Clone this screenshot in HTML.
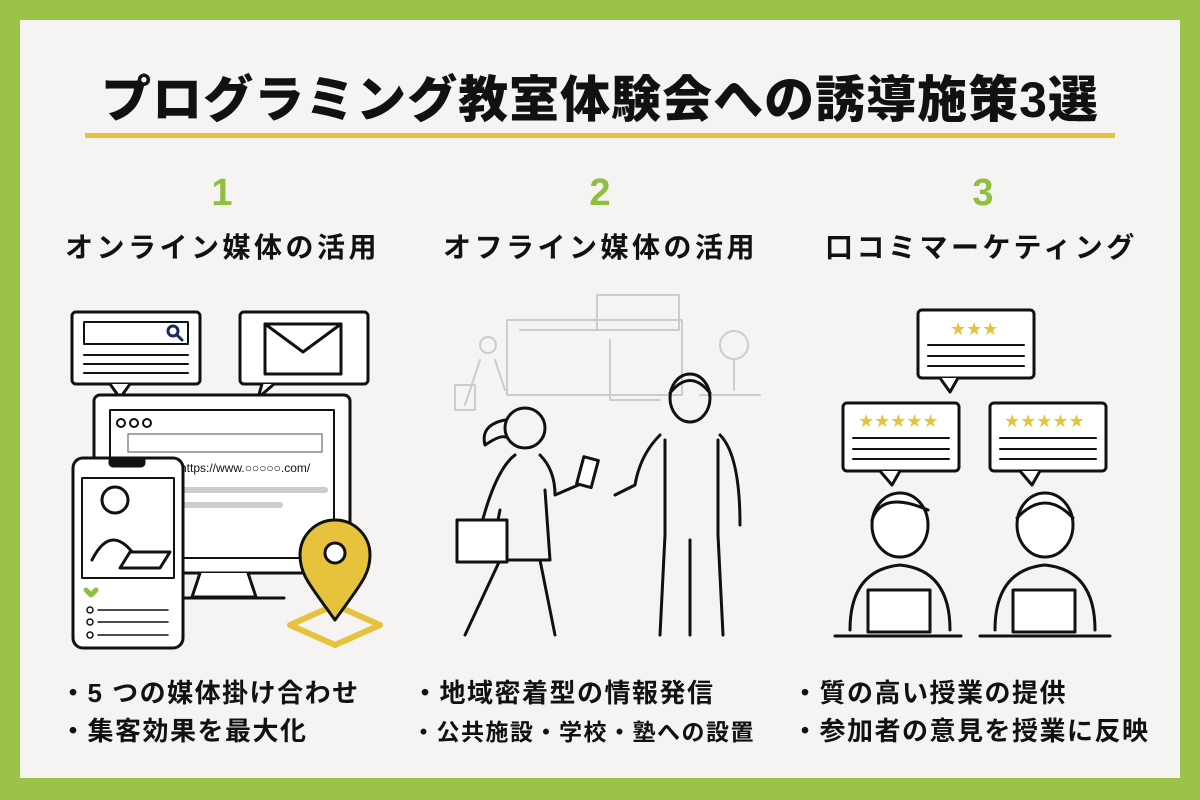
<!DOCTYPE html>
<html><head><meta charset="utf-8">
<style>
*{margin:0;padding:0;box-sizing:border-box}
body{width:1200px;height:800px;background:#9cc349;position:relative;overflow:hidden;font-family:"Liberation Sans","Noto Sans CJK JP",sans-serif;color:#111}
.inner{position:absolute;left:20px;top:20px;width:1160px;height:758px;background:#f5f4f2}
.t{position:absolute;white-space:nowrap;font-weight:bold}
.title{left:0;width:1200px;text-align:center;top:60px;font-size:50px;font-weight:900;letter-spacing:1px}
.bar{position:absolute;left:85px;top:133px;width:1030px;height:5px;background:#e6c23d}
.num{font-size:38px;color:#8fbf3f;top:172px;width:60px;text-align:center}
.h{font-size:28px;top:226px;letter-spacing:3.5px}
.b{font-size:26px;letter-spacing:1.5px}
</style></head><body>
<div class="inner"></div>
<div class="t title">プログラミング教室体験会への誘導施策3選</div>
<div class="bar"></div>
<div class="t num" style="left:192px">1</div>
<div class="t num" style="left:570px">2</div>
<div class="t num" style="left:953px">3</div>
<div class="t h" style="left:65px">オンライン媒体の活用</div>
<div class="t h" style="left:443px">オフライン媒体の活用</div>
<div class="t h" style="left:825px">口コミマーケティング</div>
<div class="t b" style="left:60px;top:673px">・5 つの媒体掛け合わせ</div>
<div class="t b" style="left:60px;top:711px">・集客効果を最大化</div>
<div class="t b" style="left:412px;top:673px">・地域密着型の情報発信</div>
<div class="t b" style="left:412px;top:713px;font-size:23px">・公共施設・学校・塾への設置</div>
<div class="t b" style="left:792px;top:673px">・質の高い授業の提供</div>
<div class="t b" style="left:792px;top:711px">・参加者の意見を授業に反映</div>

<svg style="position:absolute;left:0;top:0" width="1200" height="800" fill="none" stroke="#111" stroke-width="3" stroke-linejoin="round" stroke-linecap="round">
<rect x="72" y="312" width="128" height="72" rx="4" fill="#fff"/>
<path d="M110 384 l10 14 l10 -14" fill="#fff"/>
<rect x="84" y="322" width="104" height="22" fill="#fff" stroke-width="2"/>
<circle cx="173" cy="331" r="5" stroke="#1a2a5a"/><path d="M177 335 l5 5" stroke="#1a2a5a"/>
<path d="M84 355h104M84 364h104M84 373h104" stroke-width="2"/>
<rect x="240" y="312" width="128" height="72" rx="4" fill="#fff"/>
<path d="M262 384 l-4 14 l16 -14" fill="#fff"/>
<rect x="265" y="324" width="76" height="50" fill="#fff"/>
<path d="M265 324 l38 28 l38 -28"/>
<rect x="94" y="395" width="256" height="178" rx="6" fill="#fff"/>
<rect x="110" y="410" width="224" height="148" fill="#fff" stroke-width="2"/>
<circle cx="121" cy="423" r="4" stroke-width="2"/><circle cx="134" cy="423" r="4" stroke-width="2"/><circle cx="147" cy="423" r="4" stroke-width="2"/>
<rect x="128" y="434" width="194" height="18" stroke-width="1.5" stroke="#888"/>
<path d="M180 490h145M180 505h100" stroke="#ccc" stroke-width="6"/>
<text x="180" y="472" font-size="12" fill="#111" stroke="none" font-family="Liberation Sans">https://www.○○○○○.com/</text>
<path d="M200 573 l-8 24 h64 l-8 -24" fill="#fff"/>
<path d="M180 598h104"/>
<rect x="73" y="458" width="110" height="190" rx="10" fill="#fff"/>
<rect x="110" y="458" width="34" height="8" rx="3" fill="#111"/>
<rect x="82" y="478" width="92" height="100" fill="#fff" stroke-width="2"/>
<circle cx="115" cy="500" r="13"/><path d="M92 560 q20 -40 46 0"/><path d="M120 568 l40 0 l10 -16 h-40 z" fill="#fff"/>
<path d="M86 590 l5 5 l5 -5" stroke="#8fbf3f" stroke-width="5"/>
<circle cx="90" cy="610" r="3" stroke-width="1.5"/><circle cx="90" cy="622" r="3" stroke-width="1.5"/><circle cx="90" cy="635" r="3" stroke-width="1.5"/>
<path d="M98 610h70M98 622h70M98 635h70" stroke-width="1.5"/>
<path d="M290 625 l45 -20 l45 20 l-45 20 z" stroke="#e6c23d" stroke-width="6"/>
<path d="M335 620 c-25 -35 -35 -45 -35 -65 a35 35 0 0 1 70 0 c0 20 -10 30 -35 65 z" fill="#e6c23d" stroke="#111"/>
<circle cx="335" cy="553" r="10" fill="#fff"/>
<g stroke="#ccc" stroke-width="2">
<rect x="597" y="295" width="82" height="35"/><rect x="507" y="320" width="175" height="75"/>
<path d="M520 330h150M610 340v60h50"/><circle cx="734" cy="345" r="14"/><path d="M734 360v30M700 395h60"/>
<circle cx="488" cy="345" r="8"/><path d="M480 360 l-15 45 M495 360 l10 30"/><rect x="455" y="385" width="20" height="25"/>
</g>
<circle cx="525" cy="428" r="20"/>
<path d="M505 420 q-25 5 -20 25 q15 -10 20 -8" />
<path d="M515 455 q-20 15 -35 75 M540 455 q15 15 15 40 l35 -15 M545 490 l5 70 h-60 l10 -50"/>
<path d="M500 560 l-35 75 M540 560 l15 75"/>
<rect x="580" y="458" width="15" height="28" transform="rotate(15 587 472)" fill="#fff"/>
<rect x="457" y="520" width="50" height="42" fill="#fff"/>
<ellipse cx="690" cy="398" rx="20" ry="24"/>
<path d="M670 393 q20 -25 40 0"/>
<path d="M660 435 q-20 20 -25 50 l-20 10 M720 435 q20 20 20 90 M665 440 v95 M718 440 v95 M665 535 l-5 100 M718 535 l5 100 M690 540 v95"/>
<g fill="#fff">
<rect x="918" y="310" width="116" height="68" rx="4"/><path d="M940 378 l10 14 l8 -14"/>
<rect x="843" y="403" width="116" height="68" rx="4"/><path d="M880 471 l12 14 l8 -14"/>
<rect x="990" y="403" width="116" height="68" rx="4"/><path d="M1020 471 l12 14 l8 -14"/>
</g>
<path d="M928 345h96M928 356h96M928 366h96M853 438h96M853 449h96M853 459h96M1000 438h96M1000 449h96M1000 459h96" stroke-width="2"/>
<g fill="#e6c23d" stroke="none" font-size="18" font-family="DejaVu Sans">
<text x="950" y="335">★★★</text><text x="858" y="427">★★★★★</text><text x="1004" y="427">★★★★★</text>
</g>
<ellipse cx="900" cy="525" rx="28" ry="32" fill="#fff"/><path d="M872 520 q10 -30 56 -10"/>
<path d="M850 630 q0 -60 50 -65 q50 5 50 65"/>
<rect x="868" y="590" width="62" height="42" fill="#fff"/>
<ellipse cx="1045" cy="525" rx="28" ry="32" fill="#fff"/><path d="M1017 518 q28 -30 56 0"/>
<path d="M995 630 q0 -60 50 -65 q50 5 50 65"/>
<rect x="1013" y="590" width="62" height="42" fill="#fff"/>
<path d="M835 636h126M980 636h130"/>
</svg>
</body></html>
